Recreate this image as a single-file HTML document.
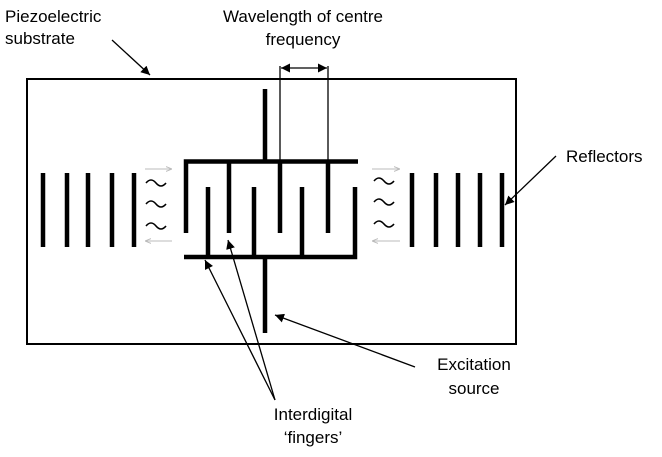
<!DOCTYPE html>
<html><head><style>
html,body{margin:0;padding:0;background:#fff;}
svg text{font-family:"Liberation Sans",sans-serif;font-size:17px;fill:#000;}
</style></head><body>
<svg width="662" height="452" viewBox="0 0 662 452" xmlns="http://www.w3.org/2000/svg">
<defs>
<marker id="a" viewBox="0 0 10 10" refX="10" refY="5" markerWidth="9" markerHeight="9" orient="auto-start-reverse" markerUnits="userSpaceOnUse"><path d="M0,0 L10,5 L0,10 z" fill="#000"/></marker>
<marker id="g" viewBox="0 0 10 10" refX="10" refY="5" markerWidth="6" markerHeight="6" orient="auto" markerUnits="userSpaceOnUse"><path d="M0,1 L10,5 L0,9" fill="none" stroke="#bbb" stroke-width="1.5"/></marker>
</defs>
<rect x="27" y="79" width="489" height="265" fill="none" stroke="#000" stroke-width="2"/>
<g stroke="#000" stroke-width="4.5" fill="none">
<line x1="43" y1="173" x2="43" y2="247"/><line x1="67" y1="173" x2="67" y2="247"/><line x1="88" y1="173" x2="88" y2="247"/><line x1="112" y1="173" x2="112" y2="247"/><line x1="134" y1="173" x2="134" y2="247"/>
<line x1="412" y1="173" x2="412" y2="247"/><line x1="436" y1="173" x2="436" y2="247"/><line x1="458" y1="173" x2="458" y2="247"/><line x1="480" y1="173" x2="480" y2="247"/><line x1="502" y1="173" x2="502" y2="247"/>
<polyline points="186,233 186,161.5 358,161.5"/>
<line x1="265" y1="89" x2="265" y2="161"/>
<line x1="229" y1="161" x2="229" y2="233"/><line x1="280" y1="161" x2="280" y2="233"/><line x1="328" y1="161" x2="328" y2="233"/>
<polyline points="184,257 355,257 355,187"/>
<line x1="208" y1="187" x2="208" y2="257"/><line x1="254" y1="187" x2="254" y2="257"/><line x1="302" y1="187" x2="302" y2="257"/>
<line x1="265" y1="257" x2="265" y2="333"/>
</g>
<g stroke="#000" stroke-width="1.3" fill="none">
<line x1="280" y1="66" x2="280" y2="161"/><line x1="328" y1="66" x2="328" y2="161"/>
<line x1="281" y1="68" x2="327" y2="68" marker-start="url(#a)" marker-end="url(#a)"/>
<line x1="112" y1="40" x2="150" y2="75" marker-end="url(#a)"/>
<line x1="556" y1="156" x2="505" y2="205" marker-end="url(#a)"/>
<line x1="415" y1="367" x2="275" y2="315" marker-end="url(#a)"/>
<line x1="275" y1="400" x2="205" y2="260" marker-end="url(#a)"/>
<line x1="275" y1="400" x2="228" y2="240" marker-end="url(#a)"/>
</g>
<g stroke="#bbb" stroke-width="1" fill="none">
<line x1="145" y1="169" x2="172" y2="169" marker-end="url(#g)"/>
<line x1="172" y1="241" x2="145" y2="241" marker-end="url(#g)"/>
<line x1="372" y1="169" x2="400" y2="169" marker-end="url(#g)"/>
<line x1="400" y1="241" x2="372" y2="241" marker-end="url(#g)"/>
</g>
<g stroke="#000" stroke-width="1.6" fill="none">
<path d="M146,183 q5,-6 10,0 t10,0"/><path d="M146,204 q5,-6 10,0 t10,0"/><path d="M146,226 q5,-6 10,0 t10,0"/>
<path d="M374,181 q5,-6 10,0 t10,0"/><path d="M374,202 q5,-6 10,0 t10,0"/><path d="M374,224 q5,-6 10,0 t10,0"/>
</g>
<text x="5" y="22">Piezoelectric</text>
<text x="5" y="44">substrate</text>
<text x="303" y="22" text-anchor="middle">Wavelength of centre</text>
<text x="303" y="45" text-anchor="middle">frequency</text>
<text x="566" y="162">Reflectors</text>
<text x="474" y="370" text-anchor="middle">Excitation</text>
<text x="474" y="394" text-anchor="middle">source</text>
<text x="313" y="420" text-anchor="middle">Interdigital</text>
<text x="313" y="443" text-anchor="middle">‘fingers’</text>
</svg>
</body></html>
